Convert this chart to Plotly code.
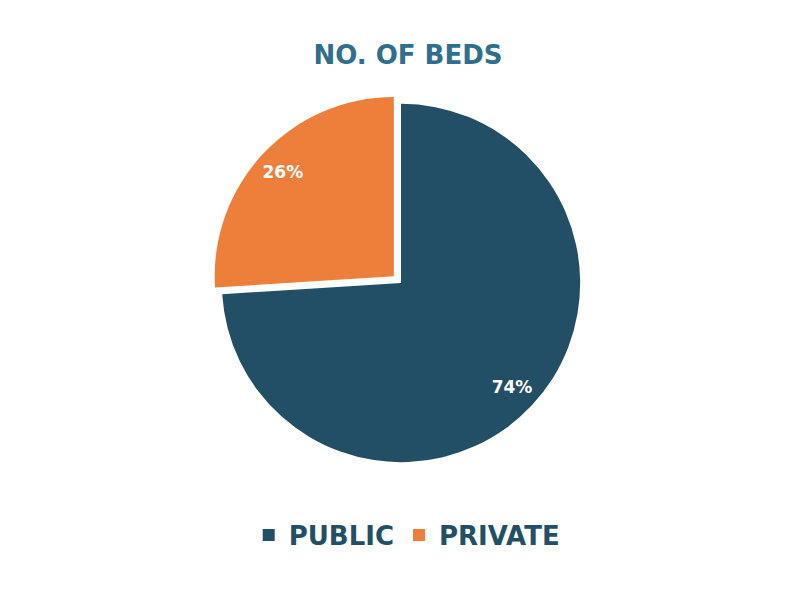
import plotly.graph_objects as go

labels = ["PUBLIC", "PRIVATE"]
values = [74, 26]
colors = ["#224f66", "#ee7f3b"]
pulls = [0, 0.055]

dom = dict(x=[0, 0.9825], y=[0.2267, 0.8567])
FONT = "DejaVu Sans"

fig = go.Figure()
fig.add_trace(go.Pie(
    labels=labels, values=values, sort=False, direction="clockwise", rotation=0,
    marker=dict(colors=colors, line=dict(width=0)),
    pull=pulls, textinfo="none",
    domain=dom, hoverinfo="label+percent",
))
# transparent ring overlay to place percentage labels near the outer edge
fig.add_trace(go.Pie(
    labels=labels, values=values, sort=False, direction="clockwise", rotation=0,
    marker=dict(colors=["rgba(0,0,0,0)"] * 2, line=dict(width=0)),
    pull=pulls, hole=0.7, showlegend=False,
    textinfo="percent", texttemplate="%{percent:.0%}",
    textposition="inside", insidetextorientation="horizontal",
    textfont=dict(family=FONT, size=17, color="white", weight="bold"),
    domain=dom, hoverinfo="skip",
))

fig.update_layout(
    width=800, height=600,
    margin=dict(l=0, r=0, t=0, b=0),
    paper_bgcolor="white", plot_bgcolor="white",
    title=dict(text="NO. OF BEDS", x=0.5, xanchor="center", y=1 - 47/600, yanchor="middle",
               font=dict(family=FONT, size=26, color="#2e6f8e", weight="bold")),
    legend=dict(orientation="h", x=0.499, xanchor="center", y=1 - 527/600, yanchor="middle",
                font=dict(family=FONT, size=26, color="#224f66", weight="bold"),
                itemsizing="constant", traceorder="normal"),
    showlegend=True,
)

fig.write_html("out.html")
